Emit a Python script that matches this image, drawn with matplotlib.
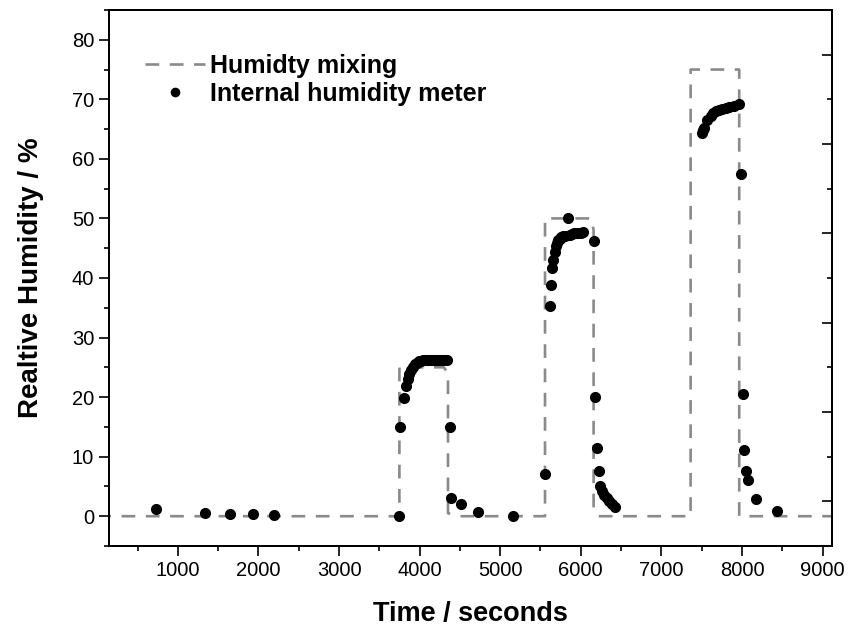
import matplotlib
matplotlib.use("Agg")
import matplotlib.pyplot as plt
from matplotlib.ticker import MultipleLocator

plt.rcParams['font.family'] = ['Liberation Sans', 'DejaVu Sans']

# humidity set by the mixing system (step profile)
mix_t = [0, 3749, 3749, 4300, 4352, 4352, 4500, 5556, 5556, 6130, 6159, 6159,
         6221, 7363, 7363, 7966, 7966, 9200]
mix_rh = [0, 0, 25, 25, 24, 0.5, 0, 0, 50, 50, 48, 1.2,
          0, 0, 75, 75, 0, 0]

# internal humidity meter readings
meter_t = [730, 1341, 1643, 1934, 2191, 3741,
           3762, 3804, 3832, 3850, 3870, 3890, 3915, 3940, 3965, 3990, 4015,
           4040, 4065, 4090, 4115, 4140, 4165, 4190, 4215, 4240, 4265, 4290,
           4315, 4335, 4372, 4393, 4518, 4726, 5154,
           5556, 5618, 5631, 5648, 5660, 5675, 5690, 5705, 5720, 5740, 5760,
           5780, 5800, 5839, 5860, 5885, 5910, 5940, 5970, 6000, 6030,
           6159, 6179, 6200, 6221, 6241, 6262, 6290, 6325, 6355, 6386, 6428,
           7500, 7515, 7530, 7570, 7612, 7645, 7674, 7715, 7758, 7800, 7841,
           7900, 7966, 7986, 8007, 8028, 8048, 8069, 8173, 8434]
meter_rh = [1.17, 0.62, 0.45, 0.34, 0.22, 0.0,
            15.0, 19.9, 21.9, 23.0, 23.9, 24.6, 25.1, 25.5, 25.8, 26.0, 26.1,
            26.2, 26.2, 26.2, 26.3, 26.3, 26.3, 26.3, 26.3, 26.3, 26.3, 26.3,
            26.3, 26.3, 15.0, 3.1, 2.1, 0.7, 0.0,
            7.05, 35.3, 38.8, 41.7, 43.1, 44.4, 45.3, 45.9, 46.3, 46.6, 46.8,
            47.0, 47.1, 50.0, 47.3, 47.4, 47.5, 47.5, 47.6, 47.6, 47.7,
            46.2, 20.1, 11.5, 7.6, 5.1, 4.2, 3.6, 3.1, 2.5, 2.0, 1.5,
            64.4, 64.9, 65.2, 66.5, 67.2, 67.7, 68.0, 68.2, 68.4, 68.6, 68.7,
            68.9, 69.2, 57.5, 20.5, 11.2, 7.6, 6.0, 2.85, 0.9]

fig = plt.figure(figsize=(8.48, 6.32), dpi=100)
ax = fig.add_axes([0.1285, 0.1361, 0.8526, 0.8481])

ax.plot(mix_t, mix_rh, color='#8a8a8a', lw=1.9, dashes=(5.2, 4),
        label='Humidty mixing', zorder=2)
ax.plot(meter_t, meter_rh, 'o', color='black', ms=7, ls='none',
        label='Internal humidity meter', zorder=3)

ax.set_xlim(145, 9117)
ax.set_ylim(-5, 85)
ax.xaxis.set_major_locator(MultipleLocator(1000))
ax.xaxis.set_minor_locator(MultipleLocator(500))
ax.yaxis.set_major_locator(MultipleLocator(10))
ax.yaxis.set_minor_locator(MultipleLocator(5))
ax.tick_params(which='both', direction='out', width=1.2, labelsize=14.5,
               top=False, right=False)
ax.tick_params(which='major', length=7.2)
ax.tick_params(which='minor', length=3.6)
for sp in ax.spines.values():
    sp.set_linewidth(1.4)

# right axis: ticks only, pointing inward
ax2 = ax.twinx()
ax2.set_ylim(0.5, 6.5)
ax2.yaxis.set_major_locator(MultipleLocator(1))
ax2.yaxis.set_minor_locator(MultipleLocator(0.5))
ax2.tick_params(which='both', direction='in', width=1.2, labelright=False)
ax2.tick_params(which='major', length=7.2)
ax2.tick_params(which='minor', length=3.6)
for sp in ax2.spines.values():
    sp.set_linewidth(1.4)

ax.set_xlabel('Time / seconds', fontsize=19.5, fontweight='bold', labelpad=15)
ax.set_ylabel('Realtive Humidity / %', fontsize=20, fontweight='bold', labelpad=20)

ax.legend(loc='upper left', bbox_to_anchor=(0.0498, 0.918), frameon=False,
          prop={'size': 18, 'weight': 'bold'}, handlelength=2.4,
          handletextpad=0.2, labelspacing=0.15, borderpad=0, borderaxespad=0,
          markerscale=0.85)

fig.savefig('out.png', dpi=100)
